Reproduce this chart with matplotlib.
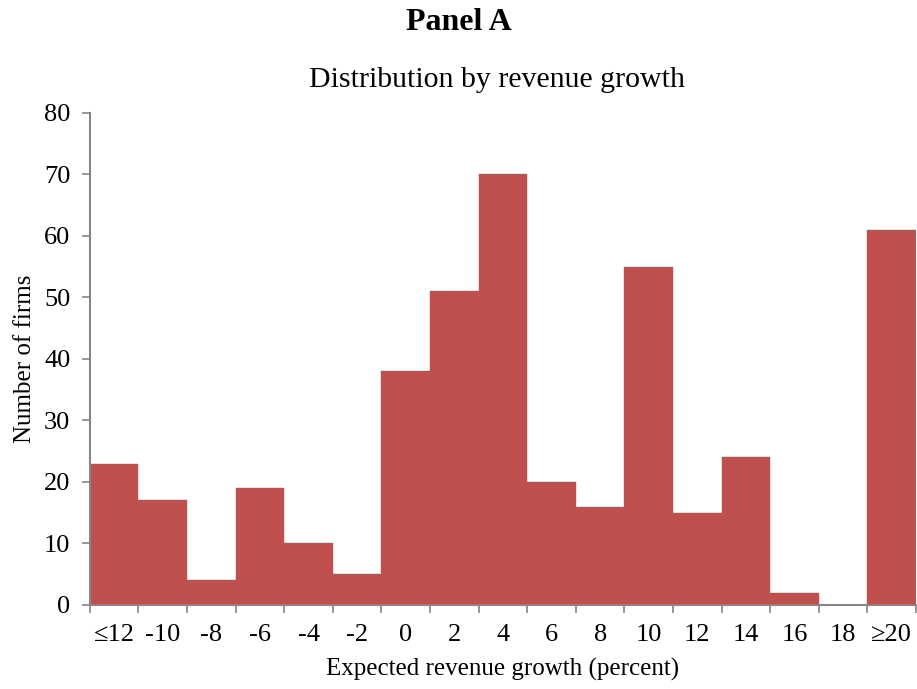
import numpy as np
import matplotlib
matplotlib.use("Agg")
import matplotlib.pyplot as plt

plt.rcParams["font.family"] = ["Liberation Serif", "DejaVu Serif"]

# firm counts per expected revenue growth bucket (percent)
bins = ["≤12", "-10", "-8", "-6", "-4", "-2", "0", "2", "4", "6", "8",
        "10", "12", "14", "16", "18", "≥20"]
firms = [23, 17, 4, 19, 10, 5, 38, 51, 70, 20, 16, 55, 15, 24, 2, 0, 61]

BAR = "#C0504D"
AXIS = "#868686"

fig = plt.figure(figsize=(9.17, 6.89), dpi=100)
ax = fig.add_axes([0.098, 0.122, 0.901, 0.714])

x = np.arange(len(bins))
ax.bar(x, firms, width=1.0, color=BAR, edgecolor=BAR, linewidth=0.3)

ax.set_xlim(-0.5, len(bins) - 0.5)
ax.set_ylim(0, 80)
ax.set_yticks(np.arange(0, 81, 10))

# labels centred under bars, tick marks on bucket boundaries
ax.set_xticks(x, bins)
ax.tick_params(axis="x", length=0, pad=14, labelsize=19)
ax.set_xticks(np.arange(-0.5, len(bins)), minor=True)
ax.tick_params(axis="x", which="minor", length=6, width=1.2, color=AXIS,
               direction="out")
ax.tick_params(axis="y", length=6, width=1.2, color=AXIS, labelsize=19, pad=8)

for sp in ("top", "right"):
    ax.spines[sp].set_visible(False)
for sp in ("left", "bottom"):
    ax.spines[sp].set_color(AXIS)
    ax.spines[sp].set_linewidth(1.5)

ax.set_ylabel("Number of firms", fontsize=18, labelpad=6)
ax.set_xlabel("Expected revenue growth (percent)", fontsize=18, labelpad=8)

fig.text(0.5, 0.968, "Panel A", ha="center", va="center",
         fontsize=23, fontweight="bold")
fig.text(0.542, 0.884, "Distribution by revenue growth", ha="center",
         va="center", fontsize=21.5)

fig.savefig("out.png", dpi=100)
